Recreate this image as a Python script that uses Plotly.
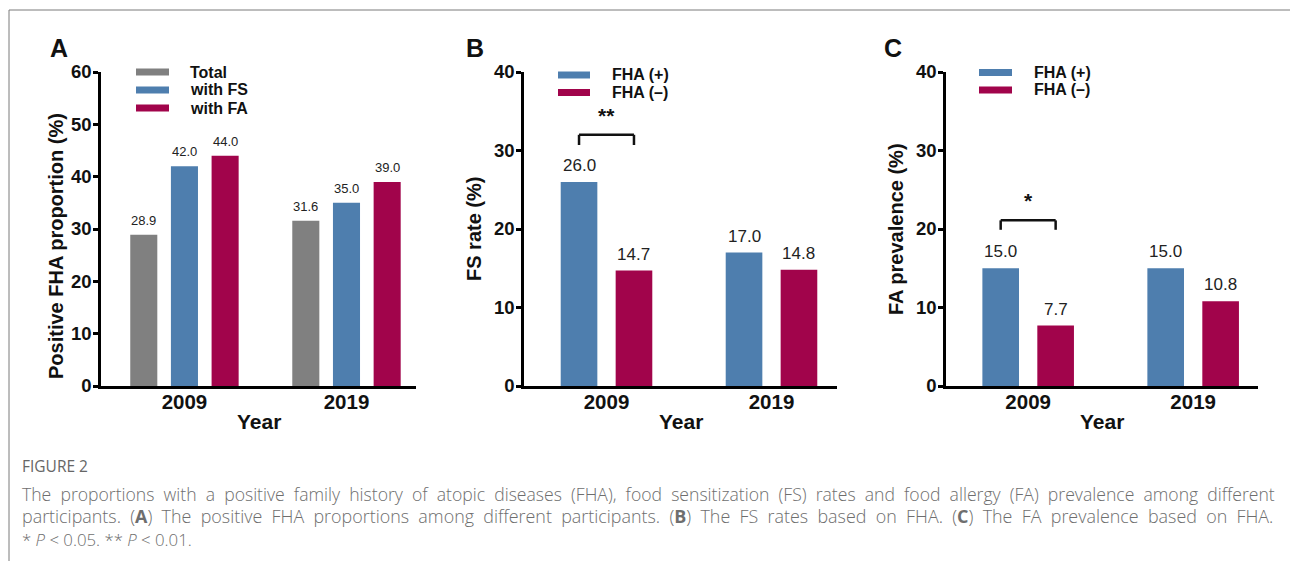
import plotly.graph_objects as go

W, H = 1290, 561

# ---------------- data ----------------
years = ["2009", "2019"]

a_names = ["Total", "with FS", "with FA"]
a_total = [28.9, 31.6]
a_fs = [42.0, 35.0]
a_fa = [44.0, 39.0]

fha_names = ["FHA (+)", "FHA (\u2013)"]
b_pos = [26.0, 17.0]
b_neg = [14.7, 14.8]
b_sig = ["**", ""]

c_pos = [15.0, 15.0]
c_neg = [7.7, 10.8]
c_sig = ["*", ""]

a_ticks = [0, 10, 20, 30, 40, 50, 60]
bc_ticks = [0, 10, 20, 30, 40]

GRAY = "#808080"
BLUE = "#4e7eae"
RED = "#a1044b"
FONT = "Liberation Sans, Arial, sans-serif"


def px(x):
    return x / W


def py(y):
    return 1 - y / H


panels = [
    dict(letter="A", series=[a_total, a_fs, a_fa], names=a_names, colors=[GRAY, BLUE, RED],
         xdom=(101, 416), xrange=(-0.515, 1.429), slot=0.251, bw=0.167, ymax=60, ticks=a_ticks,
         ytitle="Positive FHA proportion (%)", ytitle_x=56, ytitle_y=246, letter_x=59,
         label_size=13, sig=None, sig_y=None,
         leg_x=(136, 169), leg_rows=[72, 90, 108], leg_text_x=188),
    dict(letter="B", series=[b_pos, b_neg], names=fha_names, colors=[BLUE, RED],
         xdom=(524, 837), xrange=(-0.5, 1.397), slot=0.333, bw=0.222, ymax=40, ticks=bc_ticks,
         ytitle="FS rate (%)", ytitle_x=474, ytitle_y=229, letter_x=475,
         label_size=17, sig=b_sig, sig_y=(32.0, 30.7),
         leg_x=(558, 590), leg_rows=[75, 92.5], leg_text_x=610),
    dict(letter="C", series=[c_pos, c_neg], names=fha_names, colors=[BLUE, RED],
         xdom=(946, 1258), xrange=(-0.498, 1.393), slot=0.333, bw=0.222, ymax=40, ticks=bc_ticks,
         ytitle="FA prevalence (%)", ytitle_x=896, ytitle_y=229, letter_x=893,
         label_size=17, sig=c_sig, sig_y=(21.1, 19.9),
         leg_x=(979, 1012), leg_rows=[72.5, 90], leg_text_x=1032),
]

Y0, Y_TOP = 386, 72

fig = go.Figure()
annotations = []
shapes = []
layout = {}

for i, p in enumerate(panels):
    sfx = "" if i == 0 else str(i + 1)
    xa, ya = "x" + sfx, "y" + sfx
    n = len(p["series"])
    xs = list(range(len(years)))
    centers = [(k - (n - 1) / 2) * p["slot"] for k in range(n)]
    for k, (vals, name, col) in enumerate(zip(p["series"], p["names"], p["colors"])):
        fig.add_trace(go.Bar(
            x=xs, y=vals, name=name, width=p["bw"], offset=centers[k] - p["bw"] / 2,
            marker=dict(color=col, line=dict(width=0)), xaxis=xa, yaxis=ya,
            showlegend=False, hoverinfo="skip"))
        for j, v in enumerate(vals):
            annotations.append(dict(
                x=xs[j] + centers[k], y=v, xref=xa, yref=ya, text=f"{v:.1f}",
                showarrow=False, xanchor="center", yanchor="bottom", yshift=5,
                font=dict(family=FONT, size=p["label_size"], color="#222222")))
        # legend swatch + text
        ry = p["leg_rows"][k]
        shapes.append(dict(type="rect", xref="paper", yref="paper",
                           x0=px(p["leg_x"][0]), x1=px(p["leg_x"][1]),
                           y0=py(ry + 3.5), y1=py(ry - 3.5),
                           fillcolor=col, line=dict(width=0)))
        annotations.append(dict(x=px(p["leg_text_x"]), y=py(ry), xref="paper", yref="paper",
                                text=f"<b>{name}</b>", showarrow=False, xanchor="left",
                                yanchor="middle", font=dict(family=FONT, size=16, color="#111")))
    # significance brackets
    if p["sig"]:
        for j, s in enumerate(p["sig"]):
            if not s:
                continue
            x0 = xs[j] + centers[0]
            x1 = xs[j] + centers[-1]
            yt, yb = p["sig_y"]
            ln = dict(color="#111", width=2.5)
            shapes.append(dict(type="line", xref=xa, yref=ya, x0=x0, x1=x1, y0=yt, y1=yt, line=ln))
            shapes.append(dict(type="line", xref=xa, yref=ya, x0=x0, x1=x0, y0=yt, y1=yb, line=ln))
            shapes.append(dict(type="line", xref=xa, yref=ya, x0=x1, x1=x1, y0=yt, y1=yb, line=ln))
            annotations.append(dict(x=(x0 + x1) / 2, y=yt, xref=xa, yref=ya, text=f"<b>{s}</b>",
                                    showarrow=False, xanchor="center", yanchor="bottom", yshift=6,
                                    font=dict(family=FONT, size=21, color="#111")))
    layout["xaxis" + sfx] = dict(
        domain=[px(p["xdom"][0]), px(p["xdom"][1])], range=list(p["xrange"]), anchor=ya,
        tickvals=xs, ticktext=[f"<b>{y}</b>" for y in years], showline=True, linewidth=2.5,
        linecolor="black", ticks="", showgrid=False, zeroline=False, fixedrange=True,
        automargin=False, ticklabelstandoff=-4,
        tickfont=dict(family=FONT, size=20.5, color="#111"))
    layout["yaxis" + sfx] = dict(
        domain=[py(Y0), py(Y_TOP)], range=[0, p["ymax"]], anchor=xa,
        tickvals=p["ticks"], ticktext=[f"<b>{t}</b>" for t in p["ticks"]],
        showline=True, linewidth=2.5, linecolor="black", ticks="outside", ticklen=5,
        tickwidth=2.5, tickcolor="black", showgrid=False, zeroline=False, automargin=False,
        ticklabelstandoff=-2, tickfont=dict(family=FONT, size=18.5, color="#111"))
    # titles and panel letters
    annotations.append(dict(x=px(p["ytitle_x"]), y=py(p["ytitle_y"]), xref="paper", yref="paper",
                            text=f"<b>{p['ytitle']}</b>", textangle=-90, showarrow=False,
                            xanchor="center", yanchor="middle",
                            font=dict(family=FONT, size=20, color="#111")))
    annotations.append(dict(x=px((p["xdom"][0] + p["xdom"][1]) / 2), y=py(421), xref="paper",
                            yref="paper", text="<b>Year</b>", showarrow=False, xanchor="center",
                            yanchor="middle", font=dict(family=FONT, size=21, color="#111")))
    annotations.append(dict(x=px(p["letter_x"]), y=py(48), xref="paper", yref="paper",
                            text=f"<b>{p['letter']}</b>", showarrow=False, xanchor="center",
                            yanchor="middle", font=dict(family=FONT, size=25, color="#111")))

# frame lines
shapes.append(dict(type="line", xref="paper", yref="paper", x0=px(9), x1=1, y0=py(10), y1=py(10),
                   line=dict(color="#7a7a7a", width=1)))
shapes.append(dict(type="line", xref="paper", yref="paper", x0=px(9), x1=px(9), y0=py(10), y1=0,
                   line=dict(color="#7a7a7a", width=1)))


def justify(txt):
    # widen word gaps to imitate the justified caption
    return txt.replace(" ", " &nbsp;")


# caption
CAP = "Open Sans, Lato, sans-serif"
cap_lines = [
    ("FIGURE 2", 466, 15.5, 400, "#666666"),
    (justify("The proportions with a positive family history of atopic diseases (FHA), food "
             "sensitization (FS) rates and food allergy (FA) prevalence among different"),
     494, 17.6, 300, "#6e6e6e"),
    (justify("participants. (<b>A</b>) The positive FHA proportions among different participants. "
             "(<b>B</b>) The FS rates based on FHA. (<b>C</b>) The FA prevalence based on FHA."),
     516, 17.9, 300, "#6e6e6e"),
    ("* <i>P</i> &lt; 0.05. ** <i>P</i> &lt; 0.01.", 539, 16.8, 300, "#6e6e6e"),
]
for txt, yy, sz, wt, col in cap_lines:
    annotations.append(dict(x=px(20), y=py(yy), xref="paper", yref="paper", text=txt,
                            showarrow=False, xanchor="left", yanchor="middle",
                            font=dict(family=CAP, size=sz, color=col, weight=wt)))

fig.update_layout(
    width=W, height=H, margin=dict(l=0, r=0, t=0, b=0, pad=0, autoexpand=False),
    paper_bgcolor="white", plot_bgcolor="white", barmode="overlay",
    showlegend=False, annotations=annotations, shapes=shapes, **layout)

fig.write_html("out.html", config={"displayModeBar": False},
               post_script="document.body.style.margin='0';document.body.style.overflow='hidden';")
